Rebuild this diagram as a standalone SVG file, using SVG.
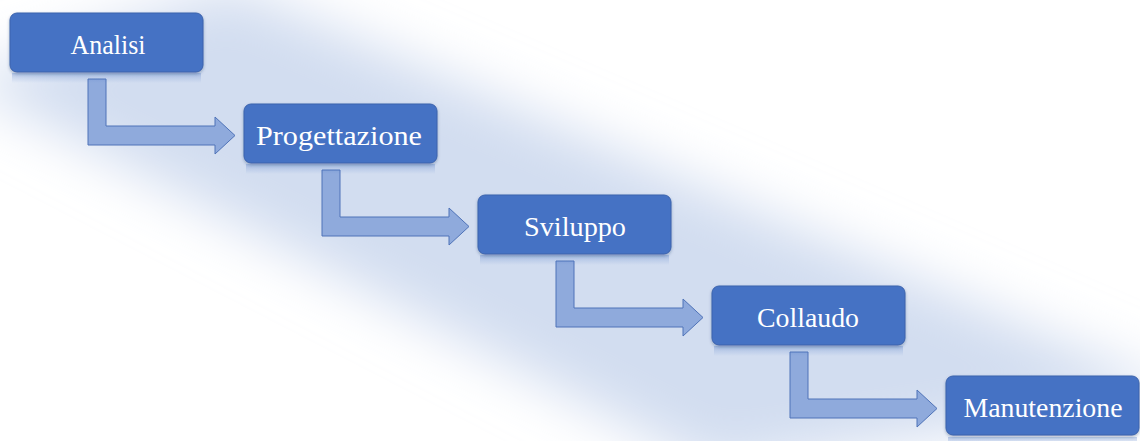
<svg xmlns="http://www.w3.org/2000/svg" width="1140" height="441" viewBox="0 0 1140 441">
<defs>
<filter id="glow" x="-20%" y="-50%" width="140%" height="200%"><feGaussianBlur stdDeviation="28"/></filter>
<filter id="sh" x="-10%" y="-20%" width="120%" height="160%"><feDropShadow dx="0" dy="1.5" stdDeviation="1.5" flood-color="#1f3864" flood-opacity="0.35"/></filter>
<linearGradient id="refl" x1="0" y1="0" x2="0" y2="1">
<stop offset="0" stop-color="#4472c4" stop-opacity="0.3"/>
<stop offset="1" stop-color="#4472c4" stop-opacity="0"/>
</linearGradient>
<style>
.box{fill:#4472c4;stroke:#3a63ad;stroke-width:1}
.refl{fill:url(#refl)}
.lbl{font-family:"Liberation Serif","DejaVu Serif",serif;font-size:28px;fill:#ffffff;text-anchor:middle}
.arr{fill:#8faadc;stroke:#4f73b8;stroke-width:1}
</style>
</defs>
<rect width="1140" height="441" fill="#ffffff"/>
<polygon points="-40,80 230,-15 1185,395 715,470" fill="#d2ddf0" filter="url(#glow)"/>
<g id="connectors">
<polygon class="arr" points="88,79 106,79 106,126 215,126 215,117 235,135.5 215,154 215,145 88,145"/>
<polygon class="arr" transform="translate(234,91)" points="88,79 106,79 106,126 215,126 215,117 235,135.5 215,154 215,145 88,145"/>
<polygon class="arr" transform="translate(468,182)" points="88,79 106,79 106,126 215,126 215,117 235,135.5 215,154 215,145 88,145"/>
<polygon class="arr" transform="translate(702,273)" points="88,79 106,79 106,126 215,126 215,117 235,135.5 215,154 215,145 88,145"/>
</g>
<g id="n1">
<rect class="refl" x="12" y="73" width="189" height="10"/>
<rect class="box" filter="url(#sh)" x="10" y="13" width="193" height="59" rx="7"/>
<text class="lbl" x="108" y="54" textLength="75" lengthAdjust="spacingAndGlyphs">Analisi</text>
</g>
<g id="n2">
<rect class="refl" x="246" y="164" width="189" height="10"/>
<rect class="box" filter="url(#sh)" x="244" y="104" width="193" height="59" rx="7"/>
<text class="lbl" x="339" y="145" textLength="166" lengthAdjust="spacingAndGlyphs">Progettazione</text>
</g>
<g id="n3">
<rect class="refl" x="480" y="255" width="189" height="10"/>
<rect class="box" filter="url(#sh)" x="478" y="195" width="193" height="59" rx="7"/>
<text class="lbl" x="575" y="236" textLength="102" lengthAdjust="spacingAndGlyphs">Sviluppo</text>
</g>
<g id="n4">
<rect class="refl" x="714" y="346" width="189" height="10"/>
<rect class="box" filter="url(#sh)" x="712" y="286" width="193" height="59" rx="7"/>
<text class="lbl" x="808" y="327" textLength="102" lengthAdjust="spacingAndGlyphs">Collaudo</text>
</g>
<g id="n5">
<rect class="refl" x="948" y="437" width="189" height="10"/>
<rect class="box" filter="url(#sh)" x="946" y="376" width="193" height="59" rx="7"/>
<text class="lbl" x="1043" y="417" textLength="159" lengthAdjust="spacingAndGlyphs">Manutenzione</text>
</g>
</svg>
